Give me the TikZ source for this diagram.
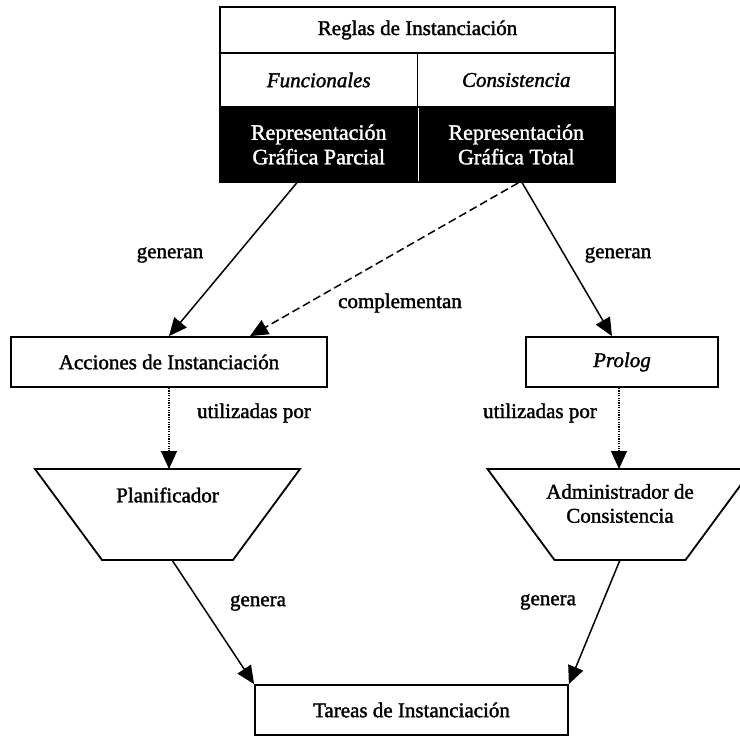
\documentclass[tikz,border=0pt]{standalone}
\usepackage{fontspec}
\setmainfont{Liberation Serif}[FakeBold=1.6]
\usetikzlibrary{arrows.meta}

\tikzset{
  txt/.style={font=\fontsize{21}{24}\selectfont, inner sep=0pt, align=center},
  cell/.style={draw, line width=1.8pt, inner sep=0pt, txt},
  darkcell/.style={cell, fill=black, text=white, font=\fontsize{22}{24.5}\selectfont},
  box/.style={draw, line width=1.8pt, inner sep=0pt, txt},
  frame/.style={inner sep=0pt, outer sep=0pt},
  lbl/.style={txt},
  conn/.style={line width=1.5pt, -{Triangle[length=18pt,width=16pt]}},
  dashconn/.style={conn, dash pattern=on 8pt off 4pt},
  dotconn/.style={conn, dash pattern=on 1.2pt off 1.2pt, line width=1.3pt},
  trap/.style={line width=1.8pt, line join=miter}
}

\begin{document}
\begin{tikzpicture}[x=1pt, y=-1pt]
  \useasboundingbox (0,0) rectangle (740,736);
  \clip (0,0) rectangle (740,736);

  % rule table
  \node[cell, minimum width=395, minimum height=46] (reglas) at (417.5,30) {Reglas de Instanciación};
  \node[cell, minimum width=197.5, minimum height=54] (func) at (318.75,80) {\itshape Funcionales};
  \node[cell, minimum width=197.5, minimum height=54] (cons) at (516.25,80) {\itshape Consistencia};
  \node[darkcell, minimum width=197.5, minimum height=75] (rgp) at (318.75,144.5) {Representación\\Gráfica Parcial};
  \node[darkcell, minimum width=197.5, minimum height=75] (rgt) at (516.25,144.5) {Representación\\Gráfica Total};
  \draw[white, line width=0.8pt] ([yshift=-2pt]rgp.north east) -- ([yshift=2pt]rgp.south east);

  % middle boxes
  \node[box, minimum width=316, minimum height=50] (acc) at (169,362) {Acciones de Instanciación};
  \node[box, minimum width=192, minimum height=50] (prolog) at (622,362) {\itshape Prolog};

  % processing blocks (inverted trapezoids)
  \node[frame, minimum width=265, minimum height=91] (plan) at (167.5,514.5) {};
  \draw[trap] (plan.north west) -- (plan.north east) -- ([xshift=-67pt]plan.south east)
              -- ([xshift=67pt]plan.south west) -- cycle;
  \node[txt] (plantxt) at ([yshift=19.5pt]plan.center) {Planificador};

  \node[frame, minimum width=265, minimum height=91] (adm) at (620,514.5) {};
  \draw[trap] (adm.north west) -- (adm.north east) -- ([xshift=-67pt]adm.south east)
              -- ([xshift=67pt]adm.south west) -- cycle;
  \node[txt] (admtxt) at ([yshift=11pt]adm.center) {Administrador de\\Consistencia};

  % result box
  \node[box, minimum width=313, minimum height=50] (tareas) at (411.5,710) {Tareas de Instanciación};

  % connectors
  \draw[conn] ([xshift=-22pt]rgp.south) -- (acc.north);
  \draw[dashconn] ([xshift=2pt]rgt.south) -- ([xshift=81pt]acc.north);
  \draw[conn] ([xshift=6pt]rgt.south) -- ([xshift=-10pt]prolog.north);
  \draw[dotconn] (acc.south) -- (acc.south |- plan.north);
  \draw[dotconn] ([xshift=-3pt]prolog.south) -- ([xshift=-3pt]prolog.south |- adm.north);
  \draw[conn] ([xshift=4.5pt]plan.south) -- (tareas.north west);
  \draw[conn] (adm.south) -- (tareas.north east);

  % connector labels
  \node[lbl] (l1) at (170,255) {generan};
  \node[lbl] (l2) at (618,255) {generan};
  \node[lbl] (l3) at (400,303) {complementan};
  \node[lbl] (l4) at (254,413) {utilizadas por};
  \node[lbl] (l5) at (540,413) {utilizadas por};
  \node[lbl] (l6) at (258,603) {genera};
  \node[lbl] (l7) at (548,602) {genera};
\end{tikzpicture}
\end{document}
